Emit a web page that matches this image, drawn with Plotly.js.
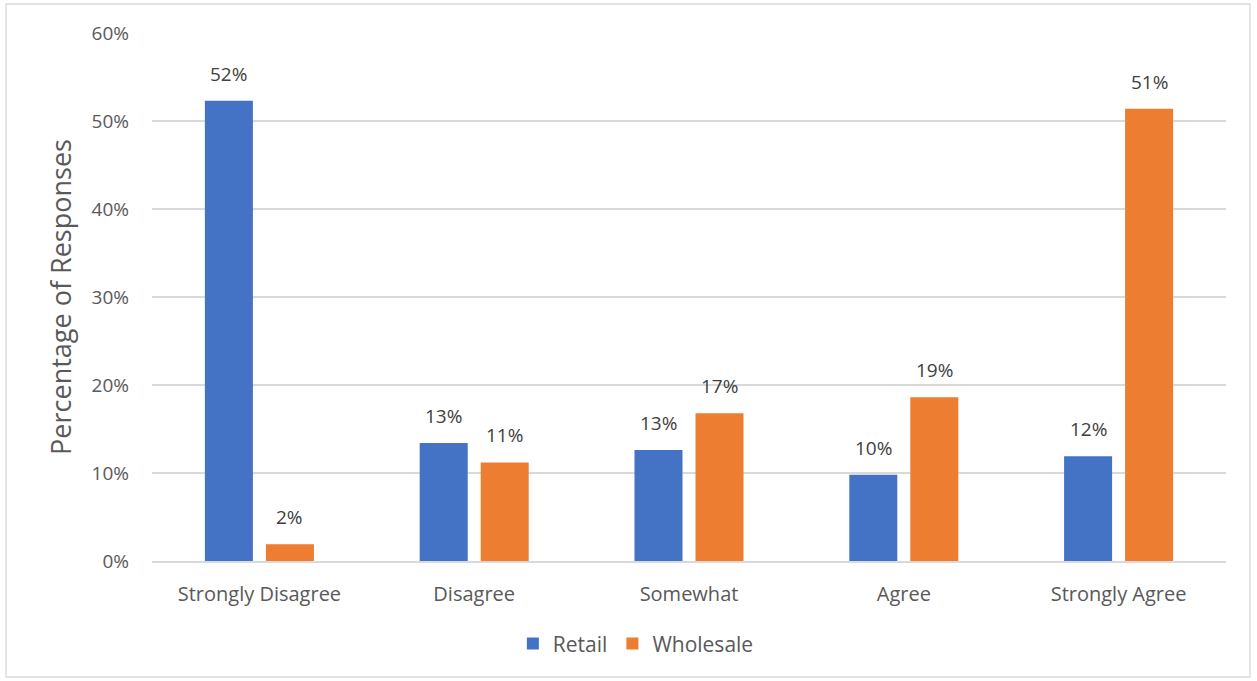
<!DOCTYPE html>
<html>
<head>
<meta charset="utf-8">
<script src="https://cdn.plot.ly/plotly-3.0.1.min.js"></script>
<style>
html,body{margin:0;padding:0;background:#fff;}
#chart{width:1257px;height:681px;}
</style>
</head>
<body>
<div id="chart"></div>
<script>
const categories = ["Strongly Disagree", "Disagree", "Somewhat", "Agree", "Strongly Agree"];
const retail = [0.523, 0.134, 0.126, 0.098, 0.119];
const wholesale = [0.019, 0.112, 0.168, 0.186, 0.514];
const seriesNames = ["Retail", "Wholesale"];
const colors = ["#4472C4", "#ED7D31"];
const yTicks = [0, 0.1, 0.2, 0.3, 0.4, 0.5, 0.6];

const font = "Open Sans, Liberation Sans, sans-serif";
const mk = (name, vals, color) => ({
  type: "bar", name: name, x: categories, y: vals,
  marker: {color: color},
  hoverinfo: "x+y"
});

const data = [mk(seriesNames[0], retail, colors[0]), mk(seriesNames[1], wholesale, colors[1])];

const annotations = [];
[retail, wholesale].forEach((vals, s) => {
  vals.forEach((v, i) => {
    annotations.push({
      x: categories[i], y: v, xref: "x", yref: "y",
      text: Math.round(v * 100) + "%", showarrow: false,
      xshift: s === 0 ? -30.5 : 30.5, yshift: 12, yanchor: "bottom",
      font: {family: font, size: 19, color: "#404040"}
    });
  });
});

const layout = {
  width: 1257, height: 681,
  margin: {l: 152, r: 31, t: 33, b: 120},
  paper_bgcolor: "#fff", plot_bgcolor: "#fff",
  barmode: "group", bargap: 0.432, bargroupgap: 0.213,
  font: {family: font, color: "#595959", size: 19},
  xaxis: {
    showgrid: false, showline: true, linecolor: "#d9d9d9", linewidth: 2,
    ticks: "", tickfont: {size: 20, color: "#595959"}, automargin: false,
    ticklabelstandoff: 14
  },
  yaxis: {
    range: [0, 0.6], tickvals: yTicks, tickformat: ".0%",
    showgrid: true, gridcolor: "#d9d9d9", gridwidth: 1.3, zeroline: false,
    showline: false, ticks: "", ticklen: 0, ticklabelstandoff: 22,
    tickfont: {size: 19, color: "#595959"}, automargin: false,
    title: {text: "Percentage of Responses", font: {size: 27, color: "#595959"}, standoff: 12}
  },
  showlegend: true,
  legend: {orientation: "h", x: 0.336, xanchor: "left", y: -0.157, yanchor: "middle",
    font: {size: 21, color: "#595959"}, traceorder: "normal", itemwidth: 30},
  annotations: annotations,
  shapes: [{type: "rect", xref: "paper", yref: "paper",
    x0: -146/1074, x1: 1098/1074, y0: -116/528, y1: 557/528,
    line: {color: "#d9d9d9", width: 1.3}, fillcolor: "rgba(0,0,0,0)"}]
};

Plotly.newPlot("chart", data, layout, {displayModeBar: false, staticPlot: true});
</script>
</body>
</html>
